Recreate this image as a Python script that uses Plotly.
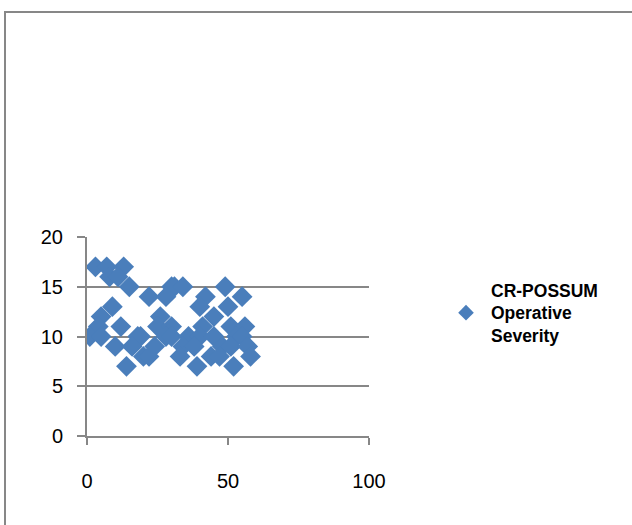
import plotly.graph_objects as go

# CR-POSSUM operative severity scatter data (x, y)
x_vals = [3, 7, 13,
          8, 11,
          15, 30, 31, 34, 49,
          22, 28, 42, 55,
          9, 40, 50,
          5, 26, 45,
          4, 12, 25, 30, 41, 51, 56,
          1, 5, 18, 19, 28, 30, 36, 40, 45, 53, 55,
          10, 16, 24, 34, 38, 48, 51, 57,
          20, 22, 33, 44, 47, 58,
          14, 39, 52]
y_vals = [17, 17, 17,
          16, 16,
          15, 15, 15, 15, 15,
          14, 14, 14, 14,
          13, 13, 13,
          12, 12, 12,
          11, 11, 11, 11, 11, 11, 11,
          10, 10, 10, 10, 10, 10, 10, 10, 10, 10, 10,
          9, 9, 9, 9, 9, 9, 9, 9,
          8, 8, 8, 8, 8, 8,
          7, 7, 7]
x_ticks = [0, 50, 100]
y_ticks = [0, 5, 10, 15, 20]
series_name = "<b>CR-POSSUM</b><br><b>Operative</b><br><b>Severity</b>"

W, H = 632, 525
L, R, T, B = 87, 369, 237, 436
pw, ph = R - L, B - T

def px_x(p):
    return (p - L) / pw

def px_y(p):
    return (B - p) / ph

grey = "#878787"
fig = go.Figure()
fig.add_trace(go.Scatter(
    x=x_vals, y=y_vals, mode="markers", name=series_name,
    marker=dict(symbol="diamond", size=16, color="#4A7EBB", line=dict(width=0)),
    showlegend=True,
))

fig.update_layout(
    width=W, height=H,
    margin=dict(l=L, r=W - R, t=T, b=H - B, pad=0),
    paper_bgcolor="white", plot_bgcolor="white",
    font=dict(family="Liberation Sans, Arial, sans-serif", size=17, color="black"),
    xaxis=dict(range=[0, 100], tickvals=x_ticks, showgrid=False, zeroline=False,
               showline=True, linecolor=grey, linewidth=2,
               ticks="outside", ticklen=7, tickcolor=grey, tickwidth=2,
               ticklabelstandoff=19, tickfont=dict(size=20)),
    yaxis=dict(range=[0, 20], tickvals=y_ticks, showgrid=True, gridcolor=grey, gridwidth=2,
               zeroline=False, showline=True, linecolor=grey, linewidth=2,
               ticks="outside", ticklen=8, tickcolor=grey, tickwidth=2,
               ticklabelstandoff=10, tickfont=dict(size=20)),
    legend=dict(x=px_x(441), y=px_y(313), xanchor="left", yanchor="middle",
                font=dict(size=17.5, color="black"), bgcolor="rgba(0,0,0,0)",
                itemsizing="constant", itemwidth=40),
    shapes=[dict(type="rect", xref="paper", yref="paper",
                 x0=px_x(5), y0=px_y(540), x1=px_x(650), y1=px_y(12),
                 line=dict(color=grey, width=2), layer="below")],
)
fig.write_html("out.html", config={"displayModeBar": False},
               post_script="document.body.style.margin='0';document.body.style.overflow='hidden';")
